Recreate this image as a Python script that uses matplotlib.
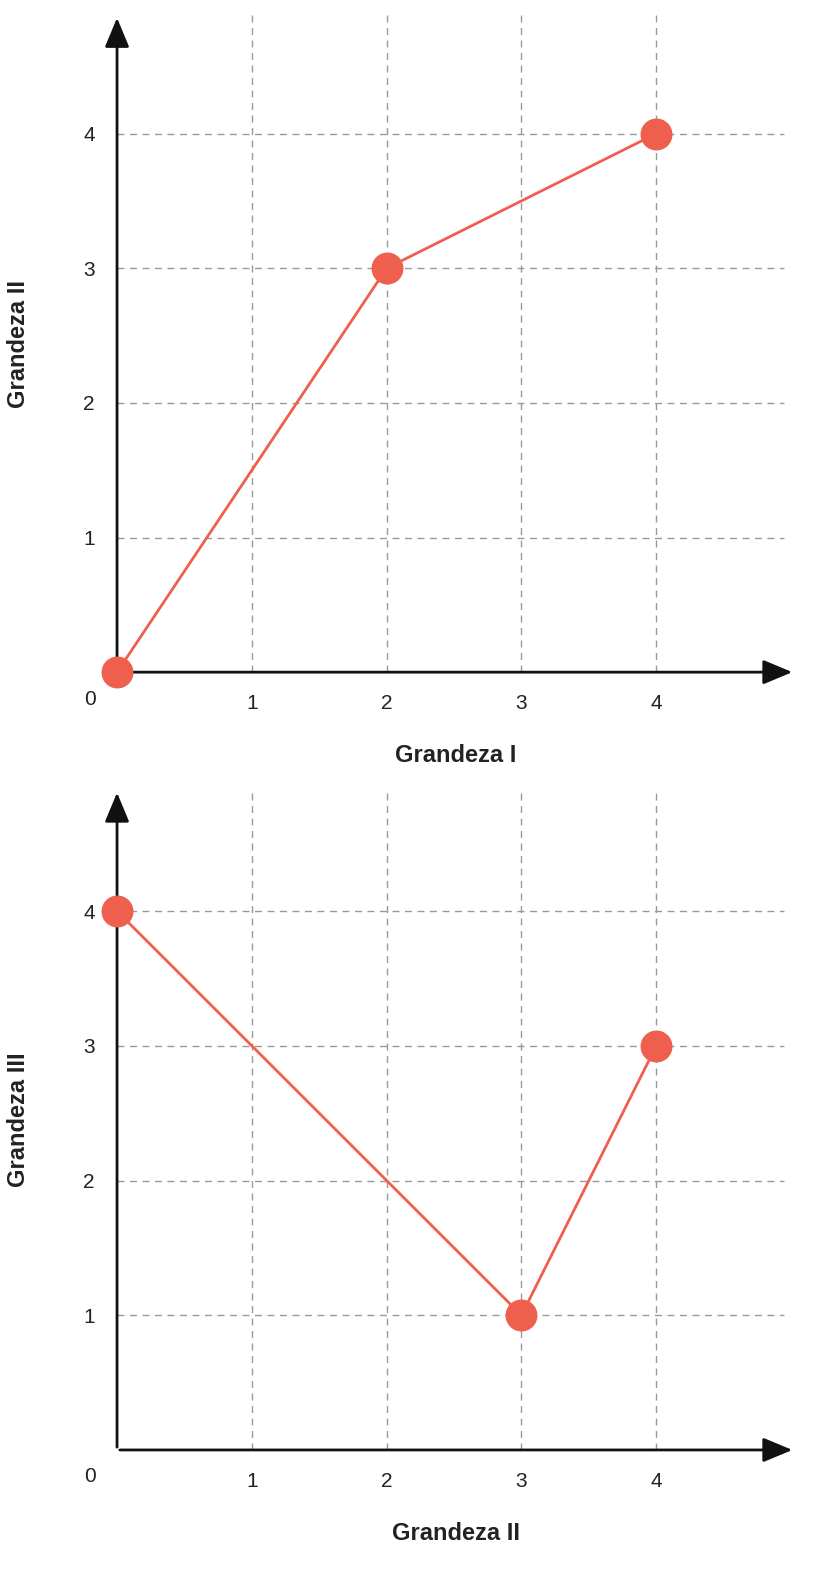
import matplotlib
matplotlib.use("Agg")
import matplotlib.pyplot as plt

plt.rcParams['font.family'] = ['Liberation Sans', 'DejaVu Sans']

x_top = [0, 2, 4]
y_top = [0, 3, 4]
x_bot = [0, 3, 4]
y_bot = [4, 1, 3]
ticks = [1, 2, 3, 4]
labels = [("Grandeza I", "Grandeza II"), ("Grandeza II", "Grandeza III")]

red = "#EE5F4E"
fig = plt.figure(figsize=(8.15, 15.89), dpi=100)
axes = [fig.add_axes([0.1436, 0.577, 0.832, 0.4135]),
        fig.add_axes([0.1436, 0.0875, 0.832, 0.4154])]
ylims = [4.88, 4.9]
for ax, (xs, ys), (xl, yl), ym in zip(axes, [(x_top, y_top), (x_bot, y_bot)], labels, ylims):
    ax.set_xlim(0, 5.03)
    ax.set_ylim(0, ym)
    for s in ax.spines.values():
        s.set_visible(False)
    for t in ticks:
        ax.axvline(t, color="#999999", ls=(0, (5, 4)), lw=1)
        ax.axhline(t, xmax=4.95/5.03, color="#999999", ls=(0, (5, 4)), lw=1)
    ax.annotate("", xy=(5.03, 0), xytext=(0, 0), xycoords="data",
                arrowprops=dict(arrowstyle="-|>,head_length=1.8,head_width=0.75", color="#111111", lw=2),
                annotation_clip=False)
    ax.annotate("", xy=(0, ym), xytext=(0, 0), xycoords="data",
                arrowprops=dict(arrowstyle="-|>,head_length=1.8,head_width=0.75", color="#111111", lw=2),
                annotation_clip=False)
    ax.plot(xs, ys, color=red, lw=2, marker="o", ms=22, mfc=red, mec=red, clip_on=False, zorder=5)
    ax.set_xticks(ticks)
    ax.set_yticks(ticks)
    ax.tick_params(length=0, labelsize=15, colors="#222222", pad=16)
    ax.text(-0.2, -0.2, "0", fontsize=15, ha="center", va="center", color="#222222")
    ax.set_xlabel(xl, fontsize=17, fontweight="bold", color="#222222", labelpad=22)
    ax.set_ylabel(yl, fontsize=17, fontweight="bold", color="#222222", labelpad=38)
fig.savefig("out.png", dpi=100)
